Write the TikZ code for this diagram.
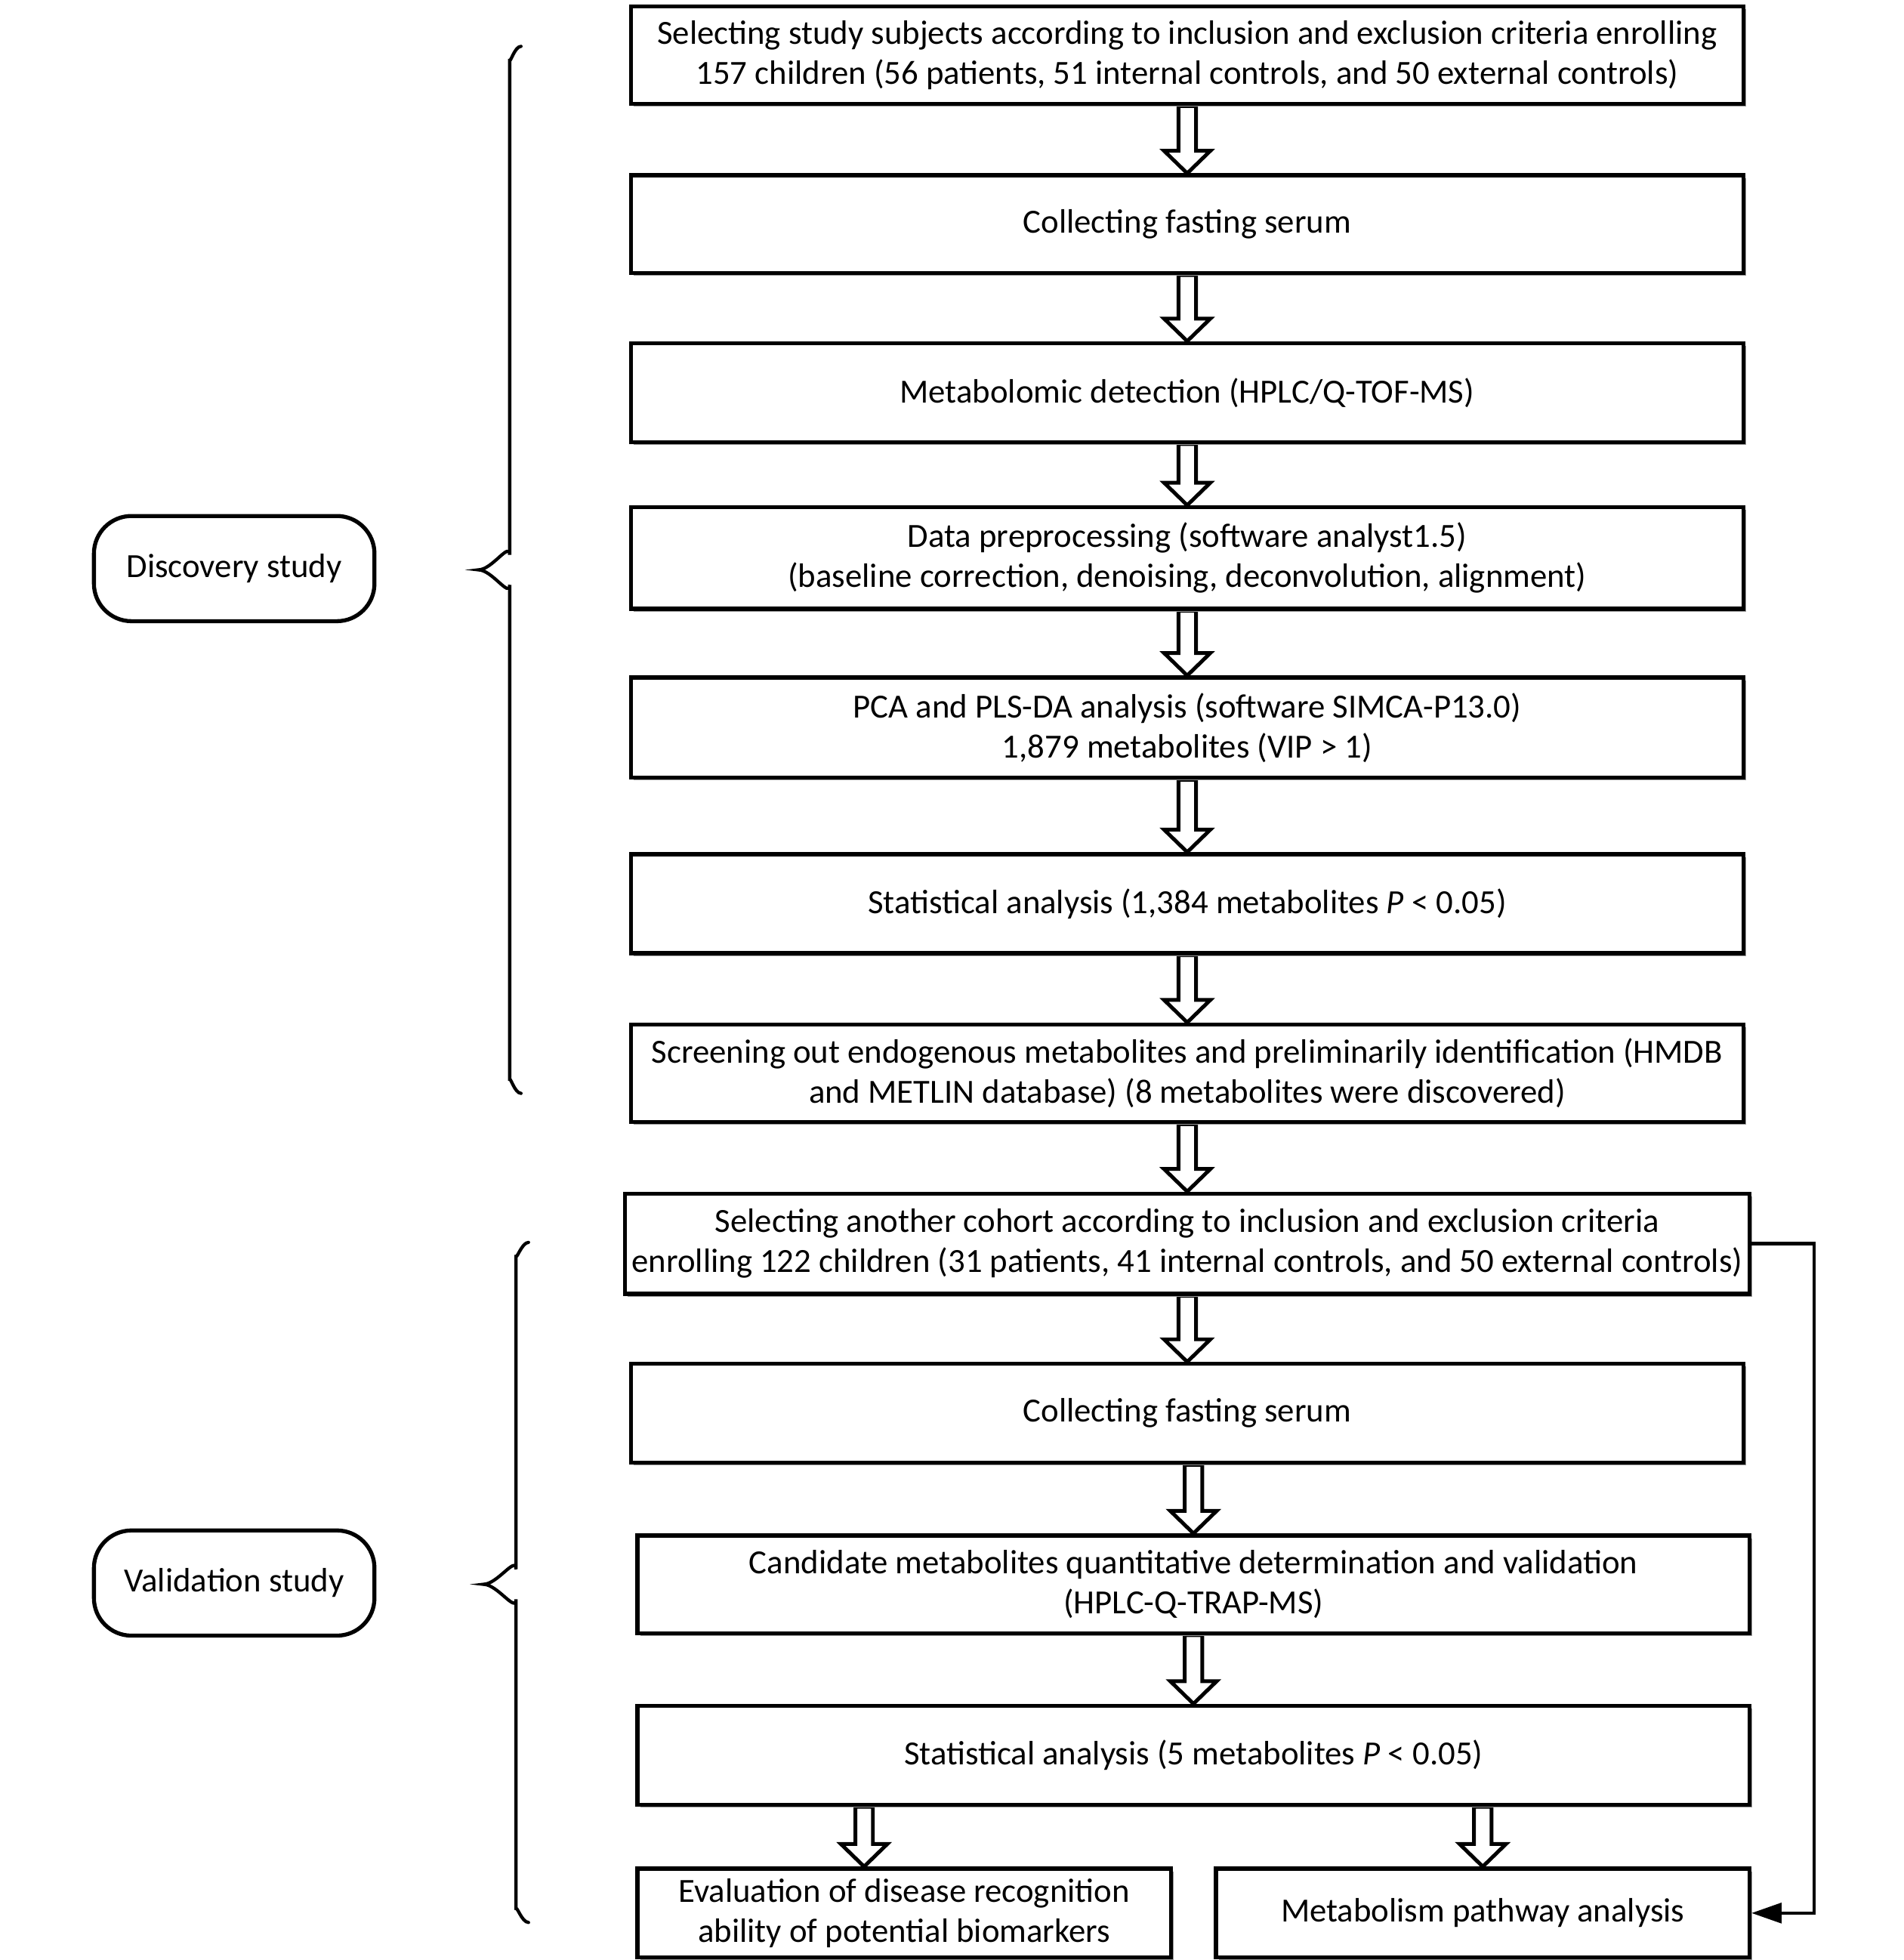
\documentclass[tikz,border=0pt]{standalone}
\usepackage{fontspec}
\setmainfont{Carlito}
\usetikzlibrary{calc,arrows.meta,shadows,backgrounds}
\tikzset{
  box/.style={draw, line width=3.2pt, fill=white, inner sep=0pt, align=center,
    drop shadow={shadow xshift=2.2pt, shadow yshift=-2.2pt, fill=black!40, opacity=1}},
  stadium/.style={draw, line width=3.2pt, fill=white, inner sep=0pt, align=center,
    rounded corners=30pt, minimum width=224pt, minimum height=84pt},
  blockarrow/.style={draw, fill=white, line width=3pt, line join=miter},
  bracel/.style={draw, line width=2.6pt, line cap=round},
  feed/.style={draw, line width=2.6pt, -{Triangle[length=24pt, width=16pt]}}
}
\newcommand\blockarr[3][0]{%
  \draw[blockarrow] let \p1=(#2.south), \p2=($(#3.north)+(#1,0)$) in
    (\x2-7pt,\y1) -- (\x2-7pt,\y2+18pt) -- (\x2-18.5pt,\y2+18pt) -- (\x2,\y2)
    -- (\x2+18.5pt,\y2+18pt) -- (\x2+7pt,\y2+18pt) -- (\x2+7pt,\y1) -- cycle;}
\begin{document}
\begin{tikzpicture}[x=1pt,y=-1pt, every node/.style={font=\fontsize{27}{32}\selectfont}]
\useasboundingbox (0,0) rectangle (1520,1565);

\node[box, minimum width=888pt, minimum height=78pt] (b1) at (948,44)
  {Selecting study subjects according to inclusion and exclusion criteria enrolling\\
   157 children (56 patients, 51 internal controls, and 50 external controls)};
\node[box, minimum width=888pt, minimum height=78pt] (b2) at (948,179)
  {Collecting fasting serum};
\node[box, minimum width=888pt, minimum height=79pt] (b3) at (948,313.5)
  {Metabolomic detection (HPLC/Q-TOF-MS)};
\node[box, minimum width=888pt, minimum height=81pt] (b4) at (948,445.5)
  {Data preprocessing (software analyst1.5)\\
   (baseline correction, denoising, deconvolution, alignment)};
\node[box, minimum width=888pt, minimum height=80pt] (b5) at (948,581)
  {PCA and PLS-DA analysis (software SIMCA-P13.0)\\
   1,879 metabolites (VIP > 1)};
\node[box, minimum width=888pt, minimum height=79pt] (b6) at (948,721.5)
  {Statistical analysis (1,384 metabolites {\itshape P} < 0.05)};
\node[box, minimum width=888pt, minimum height=78pt] (b7) at (948,857)
  {Screening out endogenous metabolites and preliminarily identification (HMDB\\
   and METLIN database) (8 metabolites were discovered)};
\node[box, minimum width=898pt, minimum height=80pt] (b8) at (948,993)
  {Selecting another cohort according to inclusion and exclusion criteria\\
   enrolling 122 children (31 patients, 41 internal controls, and 50 external controls)};
\node[box, minimum width=888pt, minimum height=79pt] (b9) at (948,1128.5)
  {Collecting fasting serum};
\node[box, minimum width=888pt, minimum height=78pt] (b10) at (953,1265)
  {Candidate metabolites quantitative determination and validation\\
   (HPLC-Q-TRAP-MS)};
\node[box, minimum width=888pt, minimum height=79pt] (b11) at (953,1401.5)
  {Statistical analysis (5 metabolites {\itshape P} < 0.05)};
\node[box, minimum width=426pt, minimum height=71pt] (b12a) at (722,1527.5)
  {Evaluation of disease recognition\\ ability of potential biomarkers};
\node[box, minimum width=426pt, minimum height=71pt] (b12b) at (1184,1527.5)
  {Metabolism pathway analysis};

\node[stadium] (disc) at (187,454) {Discovery study};
\node[stadium] (vali) at (187,1264) {Validation study};

\begin{pgfonlayer}{background}
\blockarr{b1}{b2}
\blockarr{b2}{b3}
\blockarr{b3}{b4}
\blockarr{b4}{b5}
\blockarr{b5}{b6}
\blockarr{b6}{b7}
\blockarr{b7}{b8}
\blockarr{b8}{b9}
\blockarr{b9}{b10}
\blockarr{b10}{b11}
\blockarr[-32]{b11}{b12a}
\blockarr{b11}{b12b}
\end{pgfonlayer}

\draw[feed] (b8.east) -- ++(50,0) |- (b12b.east);

\coordinate (dtip) at (382,455);
\coordinate (vtip) at (386,1265);
\draw[bracel] (416,37) to[out=180,in=-90] (407,47) -- (407,443)
  to[out=90,in=0] (dtip) to[out=0,in=-90] (407,467) -- (407,863)
  to[out=90,in=180] (416,873);
\draw[bracel] (422,992) to[out=180,in=-90] (412,1002) -- (412,1253)
  to[out=90,in=0] (vtip) to[out=0,in=-90] (412,1277) -- (412,1525)
  to[out=90,in=180] (422,1535);
\end{tikzpicture}
\end{document}
